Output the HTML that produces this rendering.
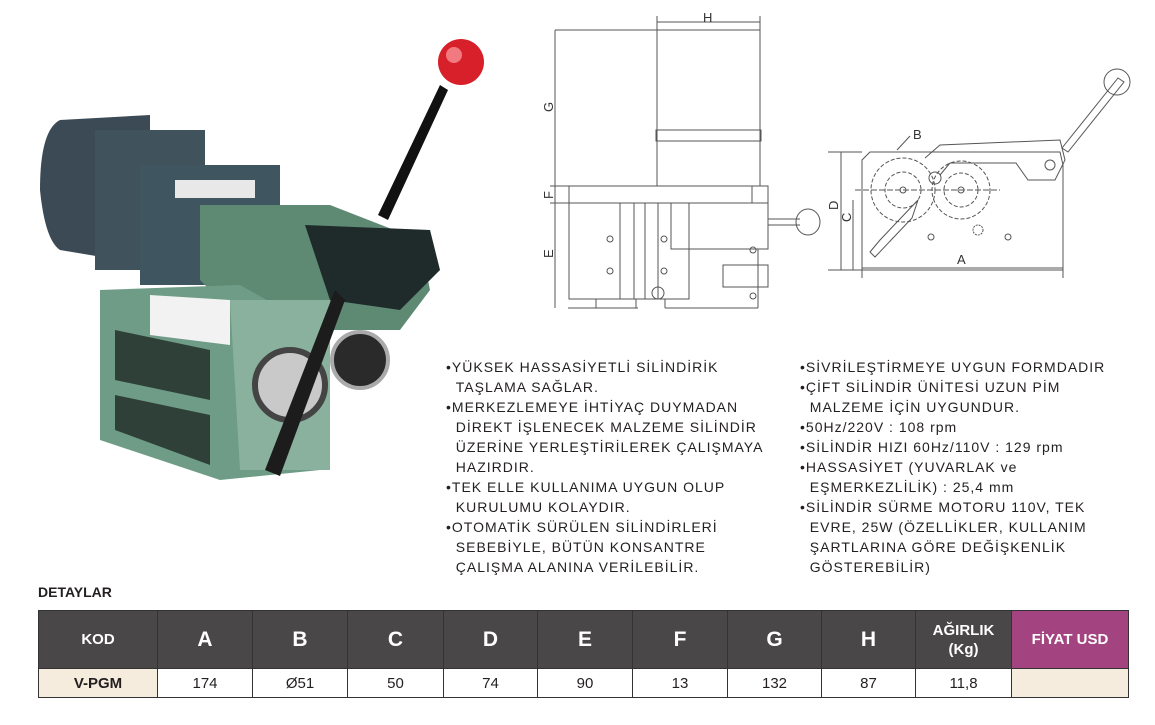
<!DOCTYPE html>
<html><head><meta charset="utf-8"><style>
body{margin:0;width:1155px;height:725px;background:#fff;position:relative;overflow:hidden;font-family:"Liberation Sans",sans-serif;color:#231f20}
.tx{position:absolute;font-size:14px;line-height:20px;letter-spacing:1px}
.tx div{white-space:nowrap}
table{position:absolute;left:38px;top:610px;border-collapse:collapse;width:1091px}
td{border:1px solid #333;text-align:center;font-size:15px;padding:0}
tr.h td{background:#4a4748;color:#fff;font-weight:bold;font-size:21px;height:57px}
tr.r td{height:28px}
</style></head><body>
<svg width="1155" height="725" style="position:absolute;left:0;top:0">
<g>
<path d="M60 120 Q40 130 40 190 Q45 240 60 250 L150 265 L150 115 Z" fill="#3b4a55"/>
<rect x="95" y="130" width="110" height="140" fill="#40525c"/>
<rect x="140" y="165" width="140" height="120" fill="#3f5560"/>
<rect x="175" y="180" width="80" height="18" fill="#e8e8e8"/>
<path d="M200 205 L330 205 L420 240 L430 290 L400 330 L250 330 L200 280 Z" fill="#5e8a74"/>
<path d="M100 290 L240 285 L320 330 L320 470 L220 480 L100 440 Z" fill="#6f9c86"/>
<path d="M115 330 L210 350 L210 400 L115 380 Z" fill="#2e4038"/>
<path d="M115 395 L210 415 L210 465 L115 430 Z" fill="#2e4038"/>
<path d="M150 295 L230 300 L230 345 L150 335 Z" fill="#f2f2f2"/>
<path d="M230 300 L330 300 L330 470 L240 470 Z" fill="#8ab09e"/>
<path d="M305 225 L430 230 L440 270 L400 310 L330 300 Z" fill="#1f2a2a"/>
<circle cx="290" cy="385" r="35" fill="#c9c9c9" stroke="#444" stroke-width="6"/>
<circle cx="360" cy="360" r="28" fill="#2a2a2a" stroke="#aaa" stroke-width="4"/>
<path d="M335 290 L265 470 L280 476 L345 300 Z" fill="#1c1c1c"/>
<path d="M440 85 L378 215 L388 220 L448 90 Z" fill="#111"/>
<circle cx="461" cy="62" r="23" fill="#d8202a"/>
<circle cx="454" cy="55" r="8" fill="#f07a80"/>
</g>
<g stroke="#555" stroke-width="1" fill="none">
<line x1="657" y1="22" x2="760" y2="22"/><line x1="657" y1="16" x2="657" y2="30"/><line x1="760" y1="16" x2="760" y2="30"/>
<rect x="657" y="30" width="103" height="156"/>
<rect x="656" y="130" width="105" height="11"/>
<line x1="555" y1="30" x2="657" y2="30"/>
<line x1="555" y1="30" x2="555" y2="308"/>
<line x1="550" y1="186" x2="569" y2="186"/><line x1="550" y1="203" x2="569" y2="203"/>
<rect x="569" y="186" width="199" height="17"/>
<line x1="752" y1="186" x2="752" y2="203"/>
<rect x="569" y="203" width="120" height="96"/>
<rect x="671" y="203" width="97" height="46"/>
<line x1="620" y1="203" x2="620" y2="299"/><line x1="634" y1="203" x2="634" y2="299"/><line x1="645" y1="203" x2="645" y2="299"/><line x1="658" y1="203" x2="658" y2="299"/>
<line x1="758" y1="249" x2="758" y2="308"/>
<line x1="665" y1="308" x2="758" y2="308"/><line x1="665" y1="299" x2="665" y2="308"/>
<rect x="723" y="265" width="45" height="22"/>
<line x1="768" y1="219" x2="800" y2="219"/><line x1="768" y1="225" x2="800" y2="225"/>
<ellipse cx="808" cy="222" rx="12" ry="13"/>
<rect x="596" y="299" width="40" height="9"/>
<line x1="568" y1="308" x2="638" y2="308"/>
<circle cx="658" cy="293" r="6"/>
<circle cx="610" cy="239" r="3"/><circle cx="664" cy="239" r="3"/><circle cx="610" cy="271" r="3"/><circle cx="664" cy="271" r="3"/><circle cx="753" cy="250" r="3"/><circle cx="753" cy="296" r="3"/>
</g>
<g stroke="#555" stroke-width="1" fill="none">
<path d="M862 270 L862 160 L870 152 L1060 152 L1063 165 L1063 270 Z"/>
<line x1="828" y1="152" x2="862" y2="152"/><line x1="828" y1="270" x2="862" y2="270"/>
<line x1="841" y1="152" x2="841" y2="270"/>
<line x1="853" y1="200" x2="853" y2="270"/>
<line x1="862" y1="268" x2="1063" y2="268"/><line x1="862" y1="262" x2="862" y2="278"/><line x1="1063" y1="262" x2="1063" y2="278"/>
<circle cx="903" cy="190" r="32" stroke-dasharray="4 2"/><circle cx="903" cy="190" r="18" stroke-dasharray="4 2"/>
<circle cx="961" cy="190" r="29" stroke-dasharray="4 2"/><circle cx="961" cy="190" r="17" stroke-dasharray="4 2"/>
<line x1="855" y1="190" x2="1000" y2="190" stroke-dasharray="6 2"/>
<circle cx="903" cy="190" r="3"/><circle cx="961" cy="190" r="3"/>
<path d="M870 252 L880 240 L918 200 L912 218 L875 257 Z"/>
<path d="M925 158 L940 145 L1060 140 L1065 160 L1055 180 L1028 180 L1016 163 L950 163 L940 175"/>
<circle cx="935" cy="178" r="6"/>
<circle cx="1050" cy="165" r="5"/>
<path d="M1062 148 L1118 78 L1124 82 L1068 152 Z"/>
<circle cx="1117" cy="82" r="13"/>
<line x1="897" y1="150" x2="910" y2="136"/>
<circle cx="931" cy="237" r="3"/><circle cx="1008" cy="237" r="3"/>
<circle cx="978" cy="230" r="5" stroke-dasharray="2 1"/>
</g>
<g font-family="Liberation Sans" font-size="13" fill="#333">
<text x="703" y="22" >H</text>
<text x="913" y="139">B</text>
<text x="957" y="264">A</text>
<text transform="translate(553,112) rotate(-90)">G</text>
<text transform="translate(553,199) rotate(-90)">F</text>
<text transform="translate(553,258) rotate(-90)">E</text>
<text transform="translate(838,210) rotate(-90)">D</text>
<text transform="translate(851,222) rotate(-90)">C</text>
</g>
</svg>
<div class="tx" style="left:446px;top:357px">
<div>•YÜKSEK HASSASİYETLİ SİLİNDİRİK</div><div>&nbsp;&nbsp;TAŞLAMA SAĞLAR.</div>
<div>•MERKEZLEMEYE İHTİYAÇ DUYMADAN</div><div>&nbsp;&nbsp;DİREKT İŞLENECEK MALZEME SİLİNDİR</div>
<div>&nbsp;&nbsp;ÜZERİNE YERLEŞTİRİLEREK ÇALIŞMAYA</div><div>&nbsp;&nbsp;HAZIRDIR.</div>
<div>•TEK ELLE KULLANIMA UYGUN OLUP</div><div>&nbsp;&nbsp;KURULUMU KOLAYDIR.</div>
<div>•OTOMATİK SÜRÜLEN SİLİNDİRLERİ</div><div>&nbsp;&nbsp;SEBEBİYLE, BÜTÜN KONSANTRE</div>
<div>&nbsp;&nbsp;ÇALIŞMA ALANINA VERİLEBİLİR.</div>
</div>
<div class="tx" style="left:800px;top:357px">
<div>•SİVRİLEŞTİRMEYE UYGUN FORMDADIR</div><div>•ÇİFT SİLİNDİR ÜNİTESİ UZUN PİM</div>
<div>&nbsp;&nbsp;MALZEME İÇİN UYGUNDUR.</div><div>•50Hz/220V : 108 rpm</div>
<div>•SİLİNDİR HIZI 60Hz/110V : 129 rpm</div><div>•HASSASİYET (YUVARLAK ve</div>
<div>&nbsp;&nbsp;EŞMERKEZLİLİK) : 25,4 mm</div><div>•SİLİNDİR SÜRME MOTORU 110V, TEK</div>
<div>&nbsp;&nbsp;EVRE, 25W (ÖZELLİKLER, KULLANIM</div><div>&nbsp;&nbsp;ŞARTLARINA GÖRE DEĞİŞKENLİK</div>
<div>&nbsp;&nbsp;GÖSTEREBİLİR)</div>
</div>
<div style="position:absolute;left:38px;top:584px;font-weight:bold;font-size:14px">DETAYLAR</div>
<table>
<tr class="h"><td style="width:118px;font-size:15px">KOD</td><td style="width:94px">A</td><td style="width:94px">B</td><td style="width:95px">C</td><td style="width:93px">D</td><td style="width:94px">E</td><td style="width:94px">F</td><td style="width:93px">G</td><td style="width:93px">H</td><td style="width:95px;font-size:15px;line-height:19px">AĞIRLIK<br>(Kg)</td><td style="background:#a3437f;font-size:15px">FİYAT USD</td></tr>
<tr class="r"><td style="background:#f5ecdd;font-weight:bold">V-PGM</td><td>174</td><td>Ø51</td><td>50</td><td>74</td><td>90</td><td>13</td><td>132</td><td>87</td><td>11,8</td><td style="background:#f5ecdd"></td></tr>
</table>
</body></html>
